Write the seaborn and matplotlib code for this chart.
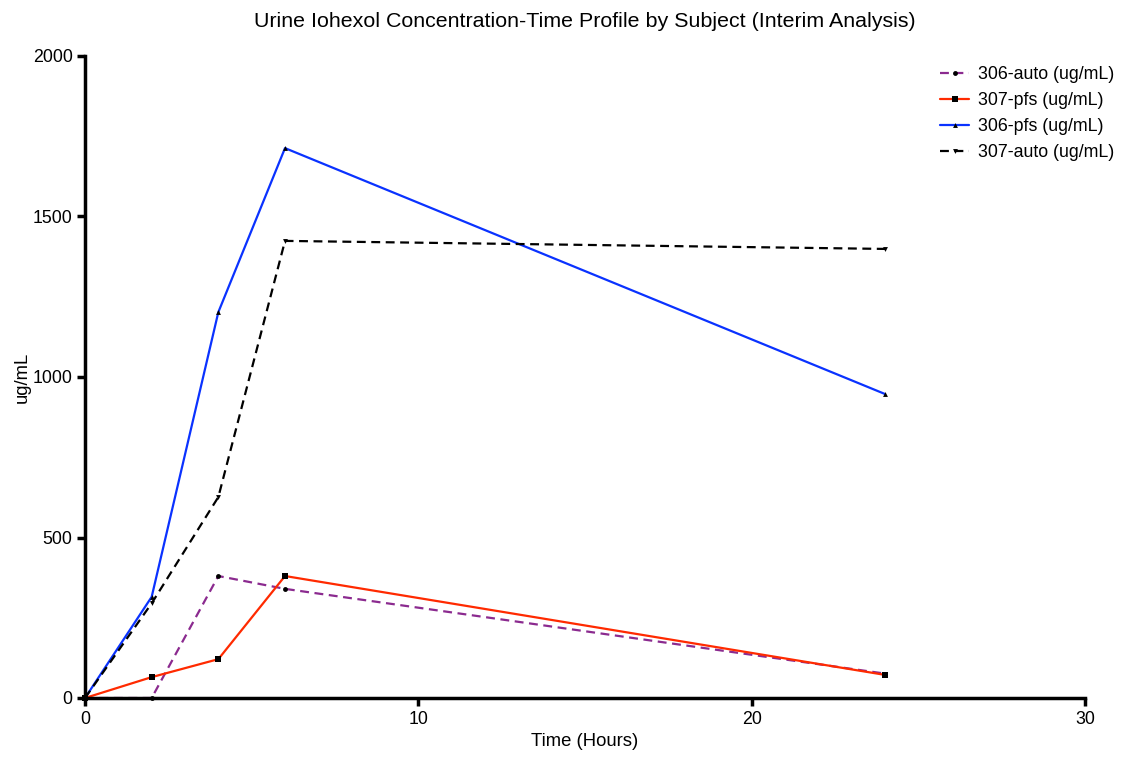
import matplotlib
matplotlib.use("Agg")
import matplotlib.pyplot as plt
import seaborn as sns
import pandas as pd

time_h = [0, 2, 4, 6, 24]
s306_auto = [0, 0, 380, 340, 76]
s307_pfs = [0, 65, 121, 380, 72]
s306_pfs = [0, 315, 1202, 1713, 947]
s307_auto = [0, 295, 626, 1424, 1399]

series_names = ["306-auto (ug/mL)", "307-pfs (ug/mL)", "306-pfs (ug/mL)", "307-auto (ug/mL)"]
series_values = [s306_auto, s307_pfs, s306_pfs, s307_auto]
colors = ["#8B2A8F", "#FF2A00", "#0A32FF", "#000000"]
linestyles = [(0, (4, 2.5)), "-", "-", (0, (4, 2.5))]
markers = ["o", "s", "^", "v"]
msizes = [3.5, 5, 3.5, 3.5]

sns.set_style("white")
plt.rcParams["font.family"] = ["Liberation Sans", "DejaVu Sans"]
plt.rcParams["text.color"] = "black"
plt.rcParams["axes.labelcolor"] = "black"
plt.rcParams["xtick.color"] = "black"
plt.rcParams["ytick.color"] = "black"

fig = plt.figure(figsize=(11.24, 7.57), dpi=100)
ax = fig.add_axes([85/1124, 59/757, 1000/1124, 642/757])

for name, vals, c, ls, m, ms in zip(series_names, series_values, colors, linestyles, markers, msizes):
    df = pd.DataFrame({"t": time_h, "v": vals})
    sns.lineplot(data=df, x="t", y="v", ax=ax, color=c, linestyle=ls, marker=m,
                 markersize=ms, markeredgewidth=0, markerfacecolor="black",
                 linewidth=1.6, label=name, clip_on=False)

ax.set_xlim(0, 30)
ax.set_ylim(0, 2000)
ax.set_xticks([0, 10, 20, 30])
ax.set_yticks([0, 500, 1000, 1500, 2000])
for s in ["top", "right"]:
    ax.spines[s].set_visible(False)
for s in ["left", "bottom"]:
    ax.spines[s].set_linewidth(2.5)
    ax.spines[s].set_color("black")
ax.tick_params(axis="both", direction="out", length=6, width=2.5, labelsize=12.8, color="black",
               labelcolor="black", bottom=True, left=True, pad=3)
ax.set_xlabel("Time (Hours)", fontsize=13.3, color="black", labelpad=4)
ax.set_ylabel("ug/mL", fontsize=13.3, color="black", labelpad=1)
ax.set_title("Urine Iohexol Concentration-Time Profile by Subject (Interim Analysis)", fontsize=15.4,
             pad=21, color="black")

leg = ax.legend(loc="upper left", bbox_to_anchor=(933/1124, 1 - 59/757), bbox_transform=fig.transFigure,
                frameon=False, fontsize=12.8, handlelength=1.65, handletextpad=0.5,
                labelspacing=0.5, borderaxespad=0)
for t in leg.get_texts():
    t.set_color("black")

fig.savefig("out.png", dpi=100)
